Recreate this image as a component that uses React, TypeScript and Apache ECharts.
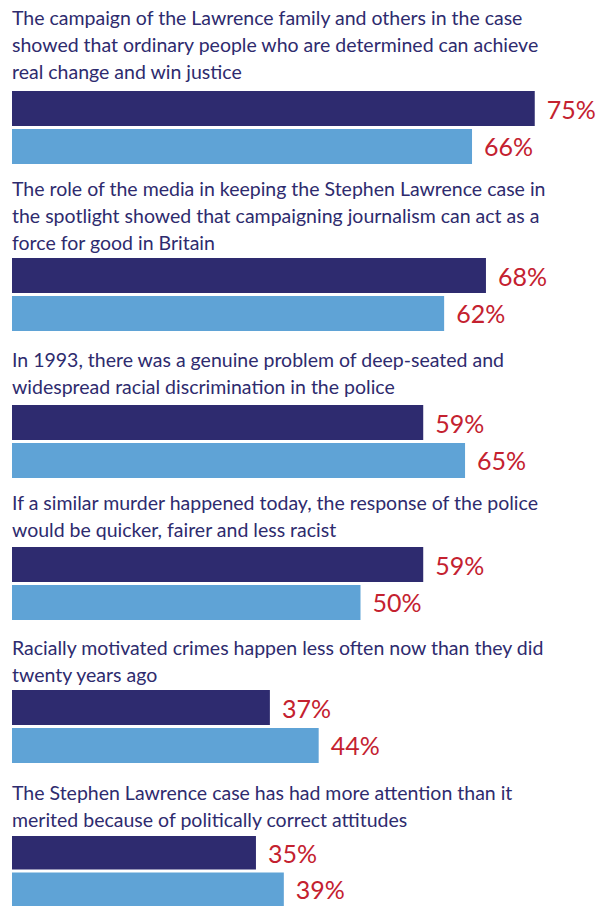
import React, { useEffect, useRef } from "react";
import * as echarts from "echarts";

const statements = [
  "The campaign of the Lawrence family and others in the case\nshowed that ordinary people who are determined can achieve\nreal change and win justice",
  "The role of the media in keeping the Stephen Lawrence case in\nthe spotlight showed that campaigning journalism can act as a\nforce for good in Britain",
  "In 1993, there was a genuine problem of deep-seated and\nwidespread racial discrimination in the police",
  "If a similar murder happened today, the response of the police\nwould be quicker, fairer and less racist",
  "Racially motivated crimes happen less often now than they did\ntwenty years ago",
  "The Stephen Lawrence case has had more attention than it\nmerited because of politically correct attitudes",
];
const darkValues = [75, 68, 59, 59, 37, 35];
const lightValues = [66, 62, 65, 50, 44, 39];

const DARK = "#2e2b6f";
const LIGHT = "#5fa3d6";
const RED = "#c4212f";
const TEXT = "#2e2b6e";
const FONT = "Lato";

// layout (pixels)
const barTops = [91, 258, 405, 547, 690, 836];
const titleBaselines = [24, 195, 366, 509, 654, 799];
const LINE_H = 27;
const TITLE_SIZE = 19.5;
const LABEL_SIZE = 25;

export default function App() {
  const ref = useRef<HTMLDivElement>(null);
  useEffect(() => {
    document.body.style.margin = "0";
    const chart = echarts.init(ref.current!, null, { renderer: "svg" });
    const grids: any[] = [];
    const xAxes: any[] = [];
    const yAxes: any[] = [];
    const series: any[] = [];
    const graphics: any[] = [];
    statements.forEach((s, i) => {
      grids.push({ left: 12, width: 557.6, top: barTops[i], height: 73 });
      xAxes.push({ type: "value", gridIndex: i, min: 0, max: 80, show: false });
      yAxes.push({ type: "category", gridIndex: i, data: [s], inverse: true, show: false });
      const label = {
        show: true,
        position: "right",
        distance: 12,
        formatter: "{c}%",
        color: RED,
        fontSize: LABEL_SIZE,
        fontFamily: FONT,
      };
      series.push({
        type: "bar",
        xAxisIndex: i,
        yAxisIndex: i,
        data: [darkValues[i]],
        barWidth: 35,
        barGap: "8.57%",
        itemStyle: { color: DARK },
        label,
      });
      series.push({
        type: "bar",
        xAxisIndex: i,
        yAxisIndex: i,
        data: [lightValues[i]],
        barWidth: 35,
        barGap: "8.57%",
        itemStyle: { color: LIGHT },
        label,
      });
      s.split("\n").forEach((line, j) => {
        graphics.push({
          type: "text",
          x: 12,
          y: titleBaselines[i] + j * LINE_H - TITLE_SIZE * 0.35,
          style: {
            text: line,
            fill: TEXT,
            fontSize: TITLE_SIZE,
            fontFamily: FONT,
            verticalAlign: "middle",
          },
        });
      });
    });
    chart.setOption({
      animation: false,
      grid: grids,
      xAxis: xAxes,
      yAxis: yAxes,
      series,
      graphic: graphics,
    });
    return () => chart.dispose();
  }, []);
  return <div ref={ref} style={{ width: 606, height: 906 }} />;
}
